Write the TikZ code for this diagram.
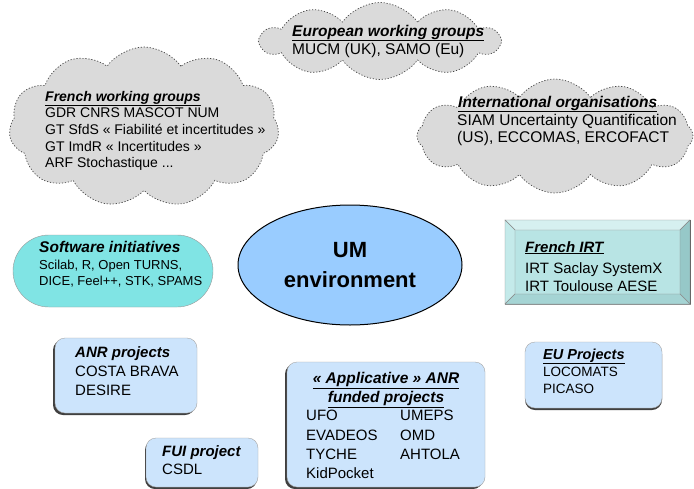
\documentclass[tikz,border=0pt]{standalone}
\usepackage{fontspec}
\setmainfont{Liberation Sans}
\usetikzlibrary{shapes.symbols,shapes.geometric,shapes.misc,shadows}
\definecolor{cloudgray}{RGB}{218,218,218}
\definecolor{cloudline}{RGB}{70,70,70}
\definecolor{boxblue}{RGB}{204,228,252}
\definecolor{umblue}{RGB}{153,204,255}
\definecolor{softcyan}{RGB}{128,228,228}
\definecolor{irtin}{RGB}{184,228,228}
\definecolor{irttop}{RGB}{214,240,240}
\definecolor{irtleft}{RGB}{196,234,234}
\definecolor{irtright}{RGB}{150,200,200}
\definecolor{irtbot}{RGB}{165,212,212}
\newcommand\fsz[2]{\fontsize{#1}{#2}\selectfont}
\newcommand\ttl[1]{\underline{\textbf{\textit{#1}}}}
\newcommand\bit[1]{\textbf{\textit{#1}}}
\begin{document}
\begin{tikzpicture}[x=1pt,y=-1pt,
  cloudshape/.style={cloud, cloud puffs=#1, cloud puff arc=110, cloud ignores aspect,
    fill=cloudgray, draw=cloudline, dash pattern=on 1.2pt off 1.8pt, line width=0.7pt, inner sep=0pt},
  txt/.style={inner sep=0pt, align=left, text=black},
  tbase/.style={txt, anchor=base west},
  tbody/.style={txt, anchor=north west},
  bluebox/.style={rectangle, rounded corners=10pt, fill=boxblue, draw=black!35, line width=0.4pt, inner sep=0pt},
  boxshadow/.style={drop shadow={shadow xshift=#1, shadow yshift=-2pt, fill=black!75, opacity=1}},
  bevel/.style={draw=black!45, line width=0.4pt},
]
\useasboundingbox (0,0) rectangle (694,488);
\fill[white] (0,0) rectangle (694,488);

% clouds
\node[cloudshape=10, minimum width=238pt, minimum height=77pt] (eucloud) at (380,41) {};
\node[cloudshape=11, minimum width=270pt, minimum height=160pt] (frcloud) at (144,127) {};
\node[cloudshape=12, minimum width=276pt, minimum height=114pt] (intcloud) at (555,136) {};

\node[tbase, font={\fsz{15.5}{18}}] (eutitle) at (292,36) {\ttl{European working groups}};
\node[tbase, font={\fsz{15.5}{18}}] (eubody) at (292,54) {MUCM (UK), SAMO (Eu)};

\node[tbase, font={\fsz{14}{16.7}}] (frtitle) at (45,101) {\ttl{French working groups}};
\node[tbody, font={\fsz{14}{16.7}}] (frbody) at (45,107.9)
  {GDR CNRS MASCOT NUM\\GT SfdS « Fiabilité et incertitudes »\\GT ImdR « Incertitudes »\\ARF Stochastique ...};

\node[tbase, font={\fsz{15.5}{17.5}}] (inttitle) at (458,107) {\ttl{International organisations}};
\node[tbody, font={\fsz{15.5}{17.5}}] (intbody) at (457,113.8)
  {SIAM Uncertainty Quantification\\(US), ECCOMAS, ERCOFACT};

% central ellipse
\node[ellipse, fill=umblue, draw=black, line width=1pt, minimum width=224pt, minimum height=120pt,
  inner sep=0pt, align=center, font={\fsz{22}{30}\bfseries}] (um) at (350,265) {UM\\environment};

% software initiatives
\node[rounded rectangle, fill=softcyan, draw=black!40, line width=0.4pt, minimum width=200pt,
  minimum height=72pt, inner sep=0pt] (soft) at (113,271) {};
\node[tbase, font={\fsz{15.5}{18}}] (softtitle) at (39,252) {\bit{Software initiatives}};
\node[tbody, font={\fsz{13}{16}}] (softbody) at (39,259.6) {Scilab, R, Open TURNS,\\DICE, Feel++, STK, SPAMS};

% French IRT (bevelled box)
\node[rectangle, fill=irtin, draw=black!45, line width=0.4pt, minimum width=185pt, minimum height=84pt, inner sep=0pt] (irt) at (597.5,262) {};
\fill[irttop, bevel] (505,220) -- (690,220) -- (680,230) -- (515,230) -- cycle;
\fill[irtleft, bevel] (505,220) -- (515,230) -- (515,294) -- (505,304) -- cycle;
\fill[irtright, bevel] (690,220) -- (690,304) -- (680,294) -- (680,230) -- cycle;
\fill[irtbot, bevel] (505,304) -- (690,304) -- (680,294) -- (515,294) -- cycle;
\draw[black!60, line width=0.6pt] (690,220) -- (690,304);
\node[tbase, font={\fsz{15}{18.5}}] (irttitle) at (525,252) {\ttl{French IRT}};
\node[tbody, font={\fsz{15}{18.5}}] (irtbody) at (525,262.2) {IRT Saclay SystemX\\IRT Toulouse AESE};

% ANR projects
\node[bluebox, boxshadow=-2pt, minimum width=142pt, minimum height=75pt] (anr) at (126,375.5) {};
\node[tbase, font={\fsz{15}{19}}] (anrtitle) at (75,357) {\bit{ANR projects}};
\node[tbody, font={\fsz{15}{19}}] (anrbody) at (75,366.2) {COSTA BRAVA\\DESIRE};

% FUI project
\node[bluebox, boxshadow=-1pt, minimum width=112pt, minimum height=49pt] (fui) at (202,462.5) {};
\node[tbase, font={\fsz{15}{18}}] (fuititle) at (162,456) {\bit{FUI project}};
\node[tbase, font={\fsz{15}{18}}] (fuibody) at (162,474) {CSDL};

% Applicative ANR funded projects
\node[bluebox, boxshadow=-2pt, minimum width=198pt, minimum height=125pt] (app) at (386,424.5) {};
\node[txt, anchor=north, align=center, font={\fsz{15.5}{19}}] (apptitle) at (386,371.8)
  {\ttl{« Applicative » ANR}\\\ttl{funded projects}};
\node[tbody, font={\fsz{15}{19.3}}] (appleft) at (306,410.2) {UFO\\EVADEOS\\TYCHE\\KidPocket};
\node[tbody, font={\fsz{15}{19.3}}] (appright) at (400,410.2) {UMEPS\\OMD\\AHTOLA};

% EU projects
\node[bluebox, boxshadow=0pt, minimum width=137pt, minimum height=66pt] (eu) at (593.5,375) {};
\node[tbase, font={\fsz{14.5}{17}}] (eutitle2) at (543,359) {\ttl{EU Projects}};
\node[tbody, font={\fsz{13.5}{17}}] (eubody2) at (543,367.3) {LOCOMATS\\PICASO};
\end{tikzpicture}
\end{document}
